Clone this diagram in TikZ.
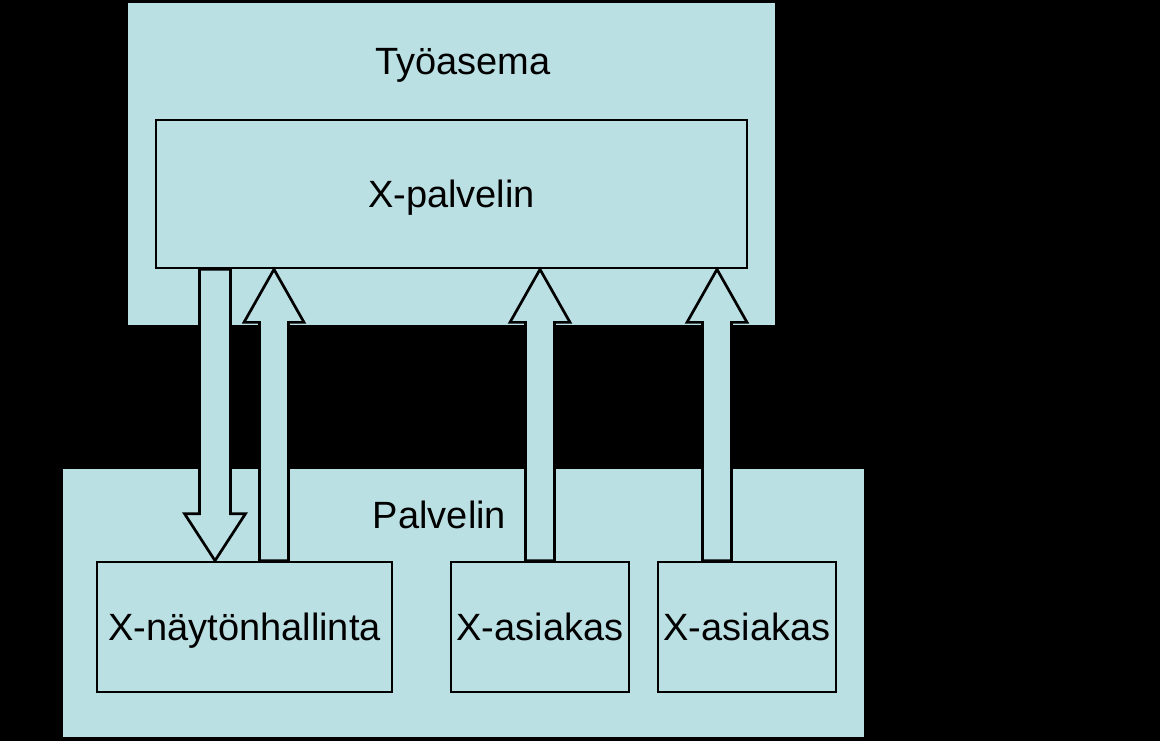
\documentclass[tikz,border=0pt]{standalone}
\usepackage{fontspec}
\setmainfont{Liberation Sans}
\usetikzlibrary{calc}
\definecolor{lb}{RGB}{187,224,227}
\tikzset{
  area/.style={fill=lb, draw=none, inner sep=0pt},
  box/.style={fill=lb, draw=black, line width=2.7pt, inner sep=0pt, text height=27.2pt, text depth=0pt},
  lbl/.style={inner sep=0pt, text height=27.2pt, text depth=0pt},
  fat/.style={fill=lb, draw=black, line width=2.7pt, line join=miter}
}
\newcommand\fatup[3]{% x coordinate, bottom node, top node
  \draw[fat] let \p1=(#2.north -| #1), \p2=(#3.south -| #1) in
    (\x1-14.5pt,\y1) -- (\x1-14.5pt,\y2-53pt) -- (\x1-30pt,\y2-53pt) -- (\x1,\y2)
    -- (\x1+30pt,\y2-53pt) -- (\x1+14.5pt,\y2-53pt) -- (\x1+14.5pt,\y1) -- cycle;}
\newcommand\fatdown[3]{% x coordinate, top node, bottom node
  \draw[fat] let \p1=(#2.south -| #1), \p2=(#3.north -| #1) in
    (\x1-15.5pt,\y1) -- (\x1-15.5pt,\y2+47pt) -- (\x1-30.5pt,\y2+47pt) -- (\x1,\y2)
    -- (\x1+30.5pt,\y2+47pt) -- (\x1+15.5pt,\y2+47pt) -- (\x1+15.5pt,\y1) -- cycle;}
\begin{document}
\begin{tikzpicture}[x=1pt,y=-1pt,font=\fontsize{38}{45}\selectfont]
\fill[black] (0,0) rectangle (1160,741);
\useasboundingbox (0,0) rectangle (1160,741);
% areas
\node[area, minimum width=647pt, minimum height=322pt] (tyo) at (451.5,164) {};
\node[area, minimum width=801pt, minimum height=268pt] (palv) at (463.5,603) {};
\node[lbl] (tyot) at (463,61) {Työasema};
\node[lbl] (palvt) at (439.5,514.5) {Palvelin};
% boxes
\node[box, minimum width=591pt, minimum height=148pt] (xp) at (451.5,194) {X-palvelin};
\node[box, minimum width=295pt, minimum height=130pt] (xn) at (244.5,627) {X-näytönhallinta};
\node[box, minimum width=178pt, minimum height=130pt] (xa1) at (540,627) {X-asiakas};
\node[box, minimum width=178pt, minimum height=130pt] (xa2) at (747,627) {X-asiakas};
% arrow positions
\coordinate (ad) at (215,400);
\coordinate (au1) at (274,400);
\coordinate (au2) at (540,400);
\coordinate (au3) at (717,400);
\fatdown{ad}{xp}{xn}
\fatup{au1}{xn}{xp}
\fatup{au2}{xa1}{xp}
\fatup{au3}{xa2}{xp}
\end{tikzpicture}
\end{document}
